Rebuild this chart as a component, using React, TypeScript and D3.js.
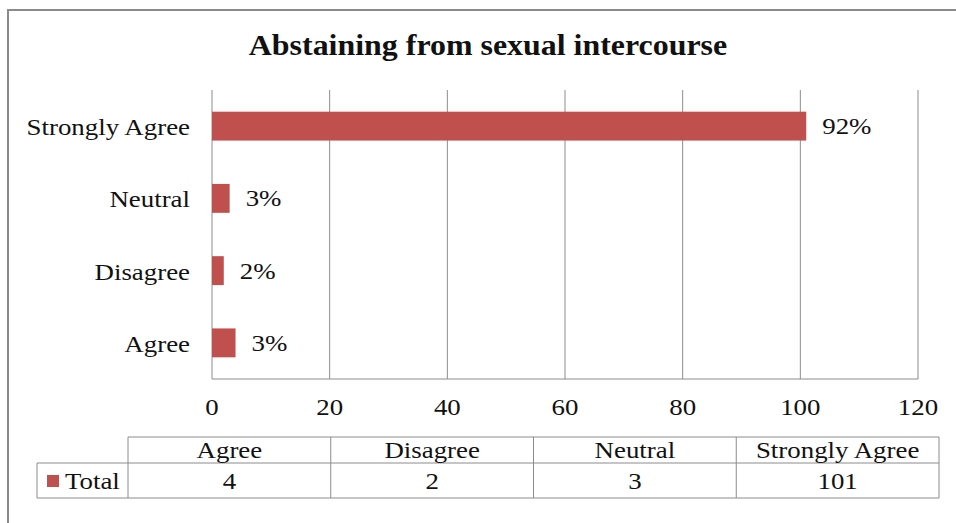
import React from "react";
import * as d3 from "d3";

// Survey responses, top to bottom on the chart
const categories = ["Strongly Agree", "Neutral", "Disagree", "Agree"];
const totals = [101, 3, 2, 4];
const percentLabels = ["92%", "3%", "2%", "3%"];

// Data table column order
const tableCategories = ["Agree", "Disagree", "Neutral", "Strongly Agree"];
const tableTotals = [4, 2, 3, 101];

const xTicks = [0, 20, 40, 60, 80, 100, 120];

const W = 956;
const H = 523;
const BAR = "#C0504D";
const GRID = "#8c8c8c";
const FONT = "'Liberation Serif', 'Times New Roman', serif";
const SX = 1.12; // horizontal text stretch

type TProps = {
  x: number;
  y: number;
  anchor?: "start" | "middle" | "end";
  size?: number;
  weight?: string;
  children: React.ReactNode;
};

function Txt({ x, y, anchor = "start", size = 24, weight = "normal", children }: TProps) {
  return (
    <text
      transform={`translate(${x},${y}) scale(${SX},1)`}
      textAnchor={anchor}
      fontFamily={FONT}
      fontSize={size}
      fontWeight={weight}
      fill="#111"
    >
      {children}
    </text>
  );
}

export default function App() {
  const x = d3.scaleLinear().domain([0, 120]).range([212, 918]);
  const y = d3.scaleBand<string>().domain(categories).range([90, 379]).paddingInner(0.6).paddingOuter(0.3);

  const tableLeft = 128;
  const tableRight = 939;
  const col = d3.scaleBand<string>().domain(tableCategories).range([tableLeft, tableRight]);
  const rowTop = 437;
  const rowMid = 463;
  const rowBot = 498;
  const legendLeft = 37;

  return (
    <svg
      width={W}
      height={H}
      viewBox={`0 0 ${W} ${H}`}
      style={{ position: "absolute", left: 0, top: 0, background: "#fff" }}
    >
      {/* chart frame */}
      <rect x={8} y={10} width={W + 20} height={H + 20} fill="#fff" stroke="#8a8a8a" strokeWidth={2} />

      <Txt x={488} y={55} anchor="middle" size={28.5} weight="bold">
        Abstaining from sexual intercourse
      </Txt>

      {/* vertical gridlines */}
      {xTicks.map((t) => (
        <line key={t} x1={x(t)} x2={x(t)} y1={90} y2={379} stroke={GRID} strokeWidth={1} />
      ))}
      <line x1={x(0)} x2={x(120)} y1={379} y2={379} stroke={GRID} strokeWidth={1} />

      {/* bars */}
      {categories.map((c, i) => (
        <rect key={c} x={x(0)} y={y(c)!} width={x(totals[i]) - x(0)} height={y.bandwidth()} fill={BAR} />
      ))}

      {/* value labels */}
      {categories.map((c, i) => (
        <Txt key={c} x={x(totals[i]) + 16} y={y(c)! + y.bandwidth() / 2 + 8}>
          {percentLabels[i]}
        </Txt>
      ))}

      {/* category labels */}
      {categories.map((c) => (
        <Txt key={c} x={190} y={y(c)! + y.bandwidth() / 2 + 9} anchor="end">
          {c}
        </Txt>
      ))}

      {/* x tick labels */}
      {xTicks.map((t) => (
        <Txt key={t} x={x(t)} y={415} anchor="middle">
          {t}
        </Txt>
      ))}

      {/* data table */}
      <g stroke={GRID} strokeWidth={1} fill="none">
        <line x1={tableLeft} x2={tableRight} y1={rowTop} y2={rowTop} />
        <line x1={legendLeft} x2={tableRight} y1={rowMid} y2={rowMid} />
        <line x1={legendLeft} x2={tableRight} y1={rowBot} y2={rowBot} />
        <line x1={legendLeft} x2={legendLeft} y1={rowMid} y2={rowBot} />
        {tableCategories.map((c) => (
          <line key={c} x1={col(c)!} x2={col(c)!} y1={rowTop} y2={rowBot} />
        ))}
        <line x1={tableRight} x2={tableRight} y1={rowTop} y2={rowBot} />
      </g>
      {tableCategories.map((c, i) => (
        <g key={c}>
          <Txt x={col(c)! + col.bandwidth() / 2} y={458} anchor="middle">
            {c}
          </Txt>
          <Txt x={col(c)! + col.bandwidth() / 2} y={489} anchor="middle">
            {tableTotals[i]}
          </Txt>
        </g>
      ))}
      <rect x={47} y={475} width={12} height={12} fill={BAR} />
      <Txt x={65} y={489}>
        Total
      </Txt>
    </svg>
  );
}
